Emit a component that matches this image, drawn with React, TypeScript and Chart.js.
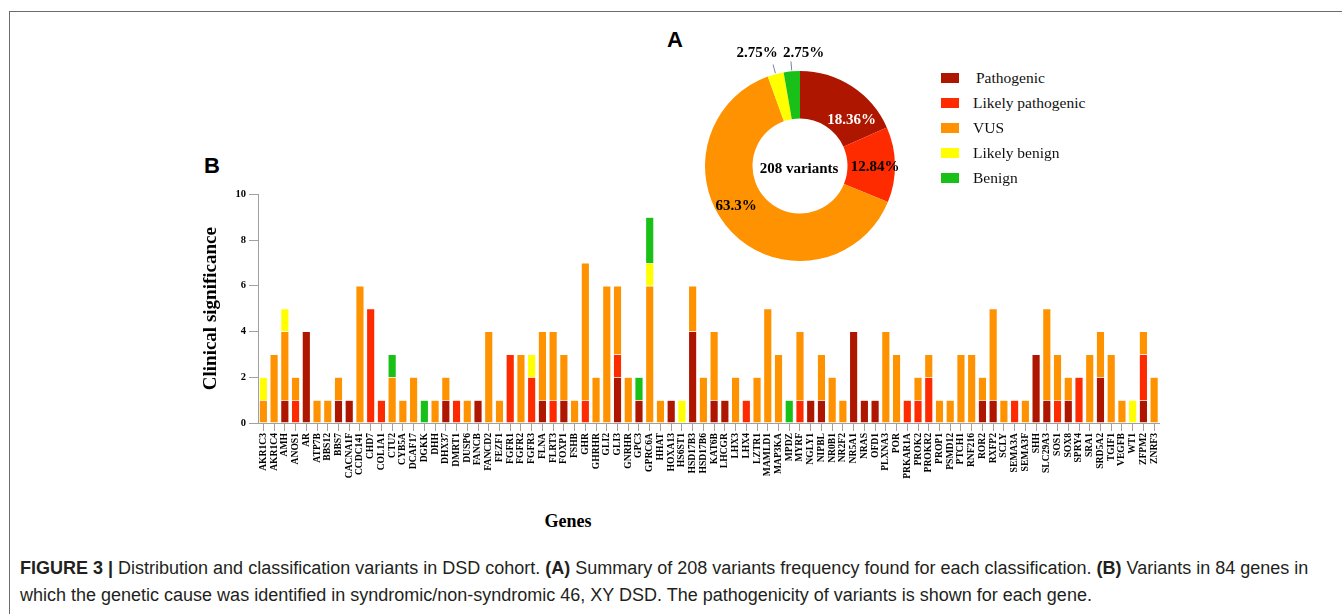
import React, { useEffect, useRef } from 'react';
import { Chart, registerables } from 'chart.js';

Chart.register(...registerables);

const genes = [
  'AKR1C3', 'AKR1C4', 'AMH', 'ANOS1', 'AR', 'ATP7B', 'BBS12', 'BBS7', 'CACNA1F', 'CCDC141',
  'CHD7', 'COL1A1', 'CTU2', 'CYB5A', 'DCAF17', 'DGKK', 'DHH', 'DHX37', 'DMRT1', 'DUSP6',
  'FANCB', 'FANCD2', 'FEZF1', 'FGFR1', 'FGFR2', 'FGFR3', 'FLNA', 'FLRT3', 'FOXP1', 'FSHB',
  'GHR', 'GHRHR', 'GLI2', 'GLI3', 'GNRHR', 'GPC3', 'GPRC6A', 'HHAT', 'HOXA13', 'HS6ST1',
  'HSD17B3', 'HSD17B6', 'KAT6B', 'LHCGR', 'LHX3', 'LHX4', 'LZTR1', 'MAMLD1', 'MAP3KA', 'MPDZ',
  'MYRF', 'NGLY1', 'NIPBL', 'NR0B1', 'NR2F2', 'NR5A1', 'NRAS', 'OFD1', 'PLXNA3', 'POR',
  'PRKAR1A', 'PROK2', 'PROKR2', 'PROP1', 'PSMD12', 'PTCH1', 'RNF216', 'ROR2', 'RXFP2', 'SCLY',
  'SEMA3A', 'SEMA3F', 'SHH', 'SLC29A3', 'SOS1', 'SOX8', 'SPRY4', 'SRA1', 'SRD5A2', 'TGIF1',
  'VEGFB', 'WT1', 'ZFPM2', 'ZNRF3',
];

const pathogenic = [
  0, 0, 1, 0, 4, 0, 0, 1, 1, 0,
  0, 0, 0, 0, 0, 0, 0, 1, 0, 0,
  1, 0, 0, 0, 0, 0, 1, 0, 1, 0,
  0, 0, 0, 2, 0, 1, 0, 0, 1, 0,
  4, 0, 1, 1, 0, 0, 0, 0, 0, 0,
  0, 1, 1, 0, 0, 4, 1, 1, 0, 0,
  0, 0, 0, 0, 0, 0, 0, 1, 1, 0,
  0, 0, 3, 1, 0, 1, 0, 0, 2, 0,
  0, 0, 1, 0,
];

const likelyPathogenic = [
  0, 0, 0, 1, 0, 0, 0, 0, 0, 0,
  5, 1, 0, 0, 0, 0, 0, 0, 1, 0,
  0, 0, 0, 3, 0, 2, 0, 1, 0, 0,
  1, 0, 0, 1, 0, 0, 0, 0, 0, 0,
  0, 0, 0, 0, 0, 1, 0, 0, 0, 0,
  1, 0, 0, 0, 0, 0, 0, 0, 0, 0,
  1, 1, 2, 0, 0, 0, 0, 0, 0, 0,
  1, 0, 0, 0, 1, 0, 2, 0, 0, 0,
  0, 0, 2, 0,
];

const vus = [
  1, 3, 3, 1, 0, 1, 1, 1, 0, 6,
  0, 0, 2, 1, 2, 0, 1, 1, 0, 1,
  0, 4, 1, 0, 3, 0, 3, 3, 2, 1,
  6, 2, 6, 3, 2, 0, 6, 1, 0, 0,
  2, 2, 3, 0, 2, 0, 2, 5, 3, 0,
  3, 0, 2, 2, 1, 0, 0, 0, 4, 3,
  0, 1, 1, 1, 1, 3, 3, 1, 4, 1,
  0, 1, 0, 4, 2, 1, 0, 3, 2, 3,
  1, 0, 1, 2,
];

const likelyBenign = [
  1, 0, 1, 0, 0, 0, 0, 0, 0, 0,
  0, 0, 0, 0, 0, 0, 0, 0, 0, 0,
  0, 0, 0, 0, 0, 1, 0, 0, 0, 0,
  0, 0, 0, 0, 0, 0, 1, 0, 0, 1,
  0, 0, 0, 0, 0, 0, 0, 0, 0, 0,
  0, 0, 0, 0, 0, 0, 0, 0, 0, 0,
  0, 0, 0, 0, 0, 0, 0, 0, 0, 0,
  0, 0, 0, 0, 0, 0, 0, 0, 0, 0,
  0, 1, 0, 0,
];

const benign = [
  0, 0, 0, 0, 0, 0, 0, 0, 0, 0,
  0, 0, 1, 0, 0, 1, 0, 0, 0, 0,
  0, 0, 0, 0, 0, 0, 0, 0, 0, 0,
  0, 0, 0, 0, 0, 1, 2, 0, 0, 0,
  0, 0, 0, 0, 0, 0, 0, 0, 0, 1,
  0, 0, 0, 0, 0, 0, 0, 0, 0, 0,
  0, 0, 0, 0, 0, 0, 0, 0, 0, 0,
  0, 0, 0, 0, 0, 0, 0, 0, 0, 0,
  0, 0, 0, 0,
];

const classes = ['Pathogenic', 'Likely pathogenic', 'VUS', 'Likely benign', 'Benign'];
const classColors = ['#AE1600', '#FF2B00', '#FF9200', '#FFFF00', '#18C018'];
const pieShares = [18.36, 12.84, 63.3, 2.75, 2.75];
const yTicks = [0, 2, 4, 6, 8, 10];

const SERIF = '"Liberation Serif", "Times New Roman", serif';
const SANS = 'Arial, "Liberation Sans", sans-serif';

const leaderPlugin = {
  id: 'leaderLines',
  afterDatasetsDraw(chart: any) {
    const meta = chart.getDatasetMeta(0);
    const ctx = chart.ctx;
    ctx.save();
    ctx.strokeStyle = '#6f86a3';
    ctx.lineWidth = 1;
    meta.data.forEach((arc: any, i: number) => {
      if (pieShares[i] > 5) return;
      const p = arc.getProps(['startAngle', 'endAngle', 'outerRadius', 'x', 'y'], true);
      const a = (p.startAngle + p.endAngle) / 2;
      ctx.beginPath();
      ctx.moveTo(p.x + Math.cos(a) * (p.outerRadius + 1), p.y + Math.sin(a) * (p.outerRadius + 1));
      ctx.lineTo(p.x + Math.cos(a) * (p.outerRadius + 10), p.y + Math.sin(a) * (p.outerRadius + 10));
      ctx.stroke();
    });
    ctx.restore();
  },
};

function BarChart() {
  const ref = useRef<HTMLCanvasElement>(null);
  useEffect(() => {
    const series = [pathogenic, likelyPathogenic, vus, likelyBenign, benign];
    const chart = new Chart(ref.current!, {
      type: 'bar',
      data: {
        labels: genes,
        datasets: series.map((d, i) => ({
          label: classes[i],
          data: d,
          backgroundColor: classColors[i],
          borderColor: 'rgba(255,255,255,0.45)',
          borderWidth: 0.6,
          barPercentage: 0.78,
          categoryPercentage: 1,
        })),
      },
      options: {
        responsive: false,
        animation: false,
        layout: { padding: { left: 0, right: 10.5, top: 8, bottom: 0 } },
        plugins: { legend: { display: false }, tooltip: { enabled: false } },
        scales: {
          x: {
            stacked: true,
            grid: { offset: false, drawOnChartArea: false, tickLength: 8, color: '#a0a0a0' },
            border: { color: '#a0a0a0' },
            ticks: {
              autoSkip: false,
              maxRotation: 90,
              minRotation: 90,
              padding: 2,
              color: '#000',
              font: { family: SERIF, weight: 'bold', size: 9.6 },
            },
            afterFit: (s: any) => { s.height = 62; },
          },
          y: {
            stacked: true,
            min: 0,
            max: 10,
            afterBuildTicks: (s: any) => { s.ticks = yTicks.map((v) => ({ value: v })); },
            grid: { drawOnChartArea: false, tickLength: 9, color: '#a0a0a0' },
            border: { color: '#a0a0a0' },
            ticks: {
              padding: 3,
              color: '#000',
              font: { family: SERIF, weight: 'bold', size: 10.5 },
            },
            title: {
              display: true,
              text: 'Clinical significance',
              color: '#000',
              padding: 0,
              font: { family: SERIF, weight: 'bold', size: 19 },
            },
            afterFit: (s: any) => { s.width = 58; },
          },
        },
      },
    });
    return () => chart.destroy();
  }, []);
  return (
    <canvas
      ref={ref}
      width={970}
      height={300}
      style={{ position: 'absolute', left: 200, top: 185, width: 970, height: 300 }}
    />
  );
}

function DonutChart() {
  const ref = useRef<HTMLCanvasElement>(null);
  useEffect(() => {
    const chart = new Chart(ref.current!, {
      type: 'doughnut',
      data: {
        labels: classes,
        datasets: [{ data: pieShares, backgroundColor: classColors, borderWidth: 0 }],
      },
      options: {
        responsive: false,
        animation: false,
        cutout: '50%',
        layout: { padding: 15 },
        plugins: { legend: { display: false }, tooltip: { enabled: false } },
      },
      plugins: [leaderPlugin],
    });
    return () => chart.destroy();
  }, []);
  return (
    <canvas
      ref={ref}
      width={220}
      height={220}
      style={{ position: 'absolute', left: 690, top: 56, width: 220, height: 220 }}
    />
  );
}

const centered = (x: number, y: number, extra: React.CSSProperties = {}): React.CSSProperties => ({
  position: 'absolute',
  left: x,
  top: y,
  transform: 'translate(-50%, -50%)',
  whiteSpace: 'nowrap',
  fontFamily: SERIF,
  fontWeight: 'bold',
  fontSize: 15,
  lineHeight: 1,
  color: '#000',
  ...extra,
});

export default function App() {
  useEffect(() => {
    document.body.style.margin = '0';
  }, []);
  return (
    <div
      style={{
        position: 'fixed',
        left: 0,
        top: 0,
        width: 1342,
        height: 614,
        overflow: 'hidden',
        background: '#fff',
      }}
    >
      <div
        style={{
          position: 'absolute',
          left: 9,
          top: 11,
          width: 1340,
          height: 610,
          borderTop: '1.5px solid #6b6b6b',
          borderLeft: '1.5px solid #6b6b6b',
        }}
      />
      <div style={centered(675, 40, { fontFamily: SANS, fontSize: 22 })}>A</div>
      <div style={centered(212, 166, { fontFamily: SANS, fontSize: 22 })}>B</div>

      <BarChart />
      <DonutChart />

      <div style={centered(757, 52)}>2.75%</div>
      <div style={centered(803.5, 52)}>2.75%</div>
      <div style={centered(851.5, 119, { color: '#fff' })}>18.36%</div>
      <div style={centered(875, 166)}>12.84%</div>
      <div style={centered(736, 205)}>63.3%</div>
      <div style={centered(799, 168)}>208 variants</div>

      {classes.map((c, i) => (
        <div key={c}>
          <div
            style={{
              position: 'absolute',
              left: 941,
              top: 73 + i * 25,
              width: 18,
              height: 10,
              background: classColors[i],
            }}
          />
          <div
            style={{
              position: 'absolute',
              left: i === 0 ? 976 : 973,
              top: 78 + i * 25,
              transform: 'translateY(-50%)',
              fontFamily: SERIF,
              fontSize: 15.5,
              lineHeight: 1,
              color: '#111',
              whiteSpace: 'nowrap',
            }}
          >
            {c}
          </div>
        </div>
      ))}

      <div style={centered(568, 521, { fontSize: 18 })}>Genes</div>

      <div
        style={{
          position: 'absolute',
          left: 20,
          top: 555,
          fontFamily: '"Liberation Sans Narrow", "Arial Narrow", Arial, sans-serif',
          fontSize: 18,
          lineHeight: '27px',
          color: '#231f20',
          whiteSpace: 'nowrap',
        }}
      >
        <div>
          <b>FIGURE 3 |</b> Distribution and classification variants in DSD cohort. <b>(A)</b> Summary of 208
          variants frequency found for each classification. <b>(B)</b> Variants in 84 genes in
        </div>
        <div>
          which the genetic cause was identified in syndromic/non-syndromic 46, XY DSD. The pathogenicity of
          variants is shown for each gene.
        </div>
      </div>
    </div>
  );
}
